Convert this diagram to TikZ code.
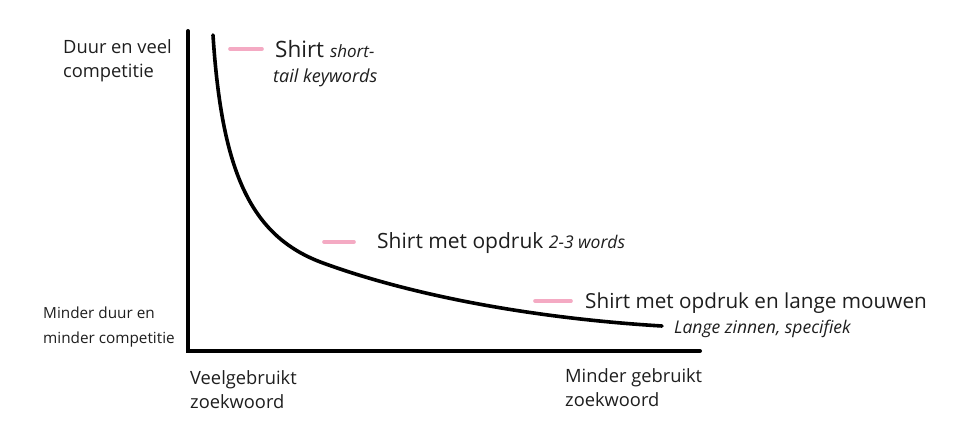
\documentclass[tikz,border=0pt]{standalone}
\usepackage{fontspec}
\setmainfont{Open Sans}
\definecolor{pinkdash}{RGB}{244,170,195}
\definecolor{txt}{RGB}{30,30,30}
\begin{document}
\begin{tikzpicture}[x=1pt,y=-1pt,
  axis/.style={line width=4pt, line cap=round, line join=miter},
  curve/.style={line width=3.6pt, line cap=round},
  tick/.style={pinkdash, line width=3.6pt, line cap=round},
  small/.style={inner sep=0pt, anchor=base west, text=txt, font=\fontsize{18.3}{22}\selectfont},
  smaller/.style={small, font=\fontsize{15.3}{19}\selectfont},
  big/.style={inner sep=0pt, anchor=base west, text=txt, font=\fontsize{21}{25}\selectfont},
  note/.style={inner sep=0pt, anchor=base west, text=txt, font=\fontsize{17.5}{21}\selectfont\itshape}
]
\useasboundingbox (0,0) rectangle (957,420);
\fill[white] (0,0) rectangle (957,420);

% axes
\coordinate (top) at (188,31);
\coordinate (origin) at (188,351);
\coordinate (xend) at (700,351);
\draw[axis] (top) -- (origin) -- (xend);

% curve
\coordinate (c0) at (213,35);
\coordinate (c1) at (323,263);
\coordinate (c2) at (662,326);
\draw[curve] (c0) .. controls (222,175) and (252,237) .. (c1)
                  .. controls (410,294.8) and (530,318) .. (c2);

% pink markers
\coordinate (m1a) at (230,49); \coordinate (m1b) at (262,49);
\coordinate (m2a) at (324,242); \coordinate (m2b) at (354,242);
\coordinate (m3a) at (535,301); \coordinate (m3b) at (571,301);
\draw[tick] (m1a) -- (m1b);
\draw[tick] (m2a) -- (m2b);
\draw[tick] (m3a) -- (m3b);

% y-axis labels
\node[small] (y1a) at (63,53) {Duur en veel};
\node[small] (y1b) at (63,77) {competitie};
\node[smaller] (y2a) at (43,318) {Minder duur en};
\node[smaller] (y2b) at (43,343) {minder competitie};

% x-axis labels
\node[small] (x1a) at (190,384) {Veelgebruikt};
\node[small] (x1b) at (190,408) {zoekwoord};
\node[small] (x2a) at (565,382) {Minder gebruikt};
\node[small] (x2b) at (565,406) {zoekwoord};

% curve labels
\node[big, font=\fontsize{22.5}{26}\selectfont] (l1) at (275,58) {Shirt \fontsize{17}{20}\selectfont\itshape short-};
\node[note, font=\fontsize{18}{21}\selectfont\itshape] (l1b) at (273,82) {tail keywords};
\node[big] (l2) at (377,248) {Shirt met opdruk \fontsize{17.5}{20}\selectfont\itshape 2-3 words};
\node[big, font=\fontsize{20.7}{25}\selectfont] (l3) at (585,308) {Shirt met opdruk en lange mouwen};
\node[note] (l3b) at (674,333) {Lange zinnen, specifiek};
\end{tikzpicture}
\end{document}
